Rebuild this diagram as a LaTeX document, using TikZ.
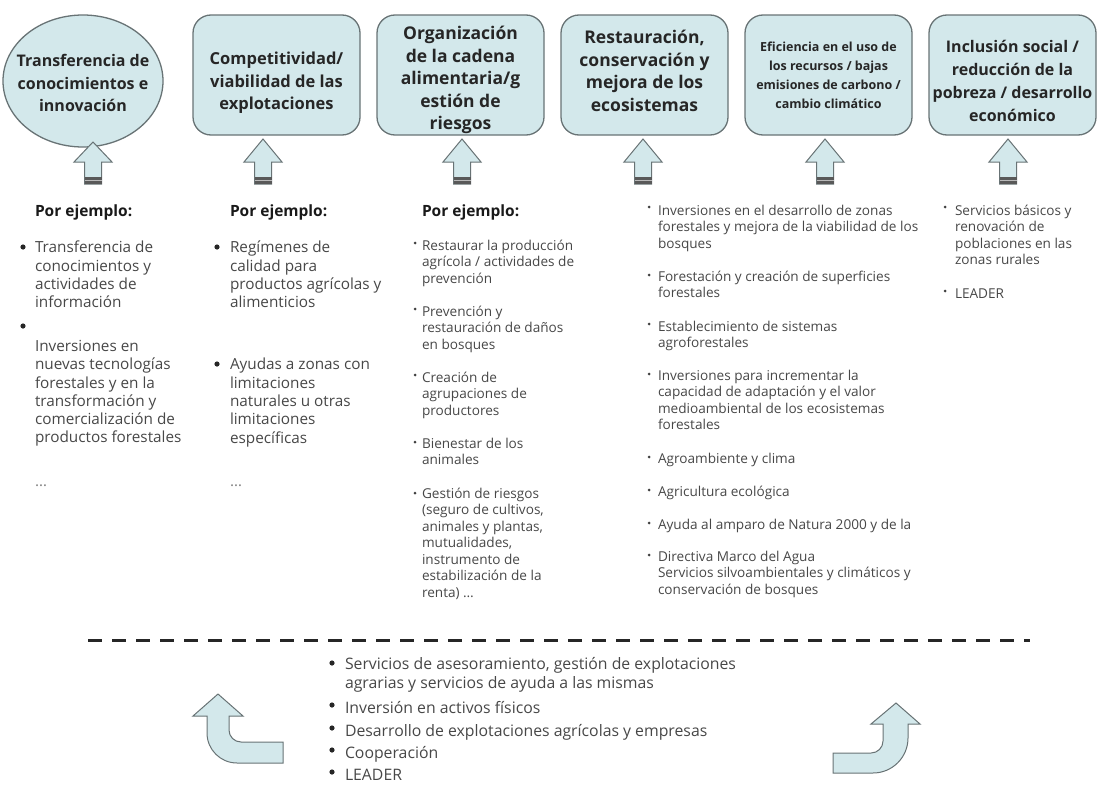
\documentclass[tikz,border=0pt]{standalone}
\usepackage{fontspec}
\setmainfont{Open Sans}
\usetikzlibrary{positioning, shapes.geometric}

\definecolor{boxfill}{HTML}{D3E8EB}
\definecolor{boxline}{HTML}{687375}
\definecolor{bodytext}{HTML}{474747}

\begin{document}
\begin{tikzpicture}[
  x=1pt,
  y=-1pt, % <-- pixel-like coordinates, y downwards
  every node/.style={inner sep=0pt, outer sep=0pt},
  goal/.style={draw=boxline, line width=1.3pt, fill=boxfill, rounded corners=18pt,
    minimum width=167pt, minimum height=120pt},
  goaltext/.style={align=center, text=black!85, font=\bfseries\fontsize{16}{22.5}\selectfont},
  head/.style={anchor=base west, text=black!90, font=\bfseries\fontsize{15.5}{18}\selectfont},
  big/.style={anchor=north west, yshift=12.81pt, align=left, text=bodytext,
    execute at begin node=\strut, font=\fontsize{15.3}{18.3}\selectfont},
  small/.style={anchor=north west, yshift=11.55pt, align=left, text=bodytext,
    execute at begin node=\strut, font=\fontsize{13.6}{16.5}\selectfont},
  blockarrow/.style={draw=boxline, line width=1pt, fill=boxfill}
]
\useasboundingbox (0,0) rectangle (1097,787);

% Goals (top row)
\node[goal, ellipse, rounded corners=0pt, minimum width=160pt, minimum height=132pt] (g1) at (83,81) {};
\node[goal] (g2) at (276.5,75) {};
\node[goal, right=17pt of g2] (g3) {};
\node[goal, right=17pt of g3] (g4) {};
\node[goal, right=17pt of g4] (g5) {};
\node[goal, right=17pt of g5] (g6) {};

\node[goaltext] (t1) at ([yshift=-2pt]g1.center) {Transferencia de\\conocimientos e\\innovación};
\node[goaltext, font=\bfseries\fontsize{16.5}{22.5}\selectfont] (t2) at ([yshift=-8pt]g2.center)
  {Competitividad/\\viabilidad de las\\explotaciones};
\node[goaltext, font=\bfseries\fontsize{17.5}{22.5}\selectfont] (t3) at ([yshift=-5pt]g3.center)
  {Organización\\de la cadena\\alimentaria/g\\estión de\\riesgos};
\node[goaltext, font=\bfseries\fontsize{17.5}{22.5}\selectfont] (t4) at ([yshift=4pt]g4.center)
  {Restauración,\\conservación y\\mejora de los\\ecosistemas};
\node[goaltext, font=\bfseries\fontsize{12.5}{19}\selectfont] (t5) at (g5.center)
  {Eficiencia en el uso de\\los recursos / bajas\\emisiones de carbono /\\cambio climático};
\node[goaltext, font=\bfseries\fontsize{16}{23}\selectfont] (t6) at ([yshift=-6pt]g6.center)
  {Inclusión social /\\reducción de la\\pobreza / desarrollo\\económico};

% Up arrows under the goals
\foreach \ax/\ay in {93/142, 263/139, 462/139, 643/139, 825/139, 1008/139} {
  \draw[blockarrow] (\ax,\ay) -- (\ax+19,162) -- (\ax+8.5,162) -- (\ax+8.5,184)
    -- (\ax-8.5,184) -- (\ax-8.5,162) -- (\ax-19,162) -- cycle;
  \fill[black!65] (\ax-8.5,177) rectangle (\ax+8.5,184);
  \draw[gray!55, line width=1.2pt] (\ax-8.5,180.5) -- (\ax+8.5,180.5);
}

% --- Column 1 ---
\node[head] (h1) at (35,216) {Por ejemplo:};
\node[big] (c1a) at (35,254) {Transferencia de\\conocimientos y\\actividades de\\información};
\node[big] (c1b) at (35,353) {Inversiones en\\nuevas tecnologías\\forestales y en la\\transformación y\\comercialización de\\productos forestales};
\node[big, text=gray] (c1c) at (35,486) {…};
\fill[black!85] (23,247) circle (2.6) (23,326) circle (2.6);

% --- Column 2 ---
\node[head] (h2) at (230,216) {Por ejemplo:};
\node[big] (c2a) at (230,254) {Regímenes de\\calidad para\\productos agrícolas y\\alimenticios};
\node[big] (c2b) at (230,371) {Ayudas a zonas con\\limitaciones\\naturales u otras\\limitaciones\\específicas};
\node[big, text=gray] (c2c) at (230,486) {…};
\fill[black!85] (217,247) circle (2.6) (217,364) circle (2.6);

% --- Column 3 ---
\node[head] (h3) at (422,216) {Por ejemplo:};
\node[small] (c3a) at (422,251.5) {Restaurar la producción\\agrícola / actividades de\\prevención};
\node[small] (c3b) at (422,317.5) {Prevención y\\restauración de daños\\en bosques};
\node[small] (c3c) at (422,383.5) {Creación de\\agrupaciones de\\productores};
\node[small] (c3d) at (422,449.5) {Bienestar de los\\animales};
\node[small] (c3e) at (422,499.5) {Gestión de riesgos\\(seguro de cultivos,\\animales y plantas,\\mutualidades,\\instrumento de\\estabilización de la\\renta) …};
\foreach \by in {243,309,375,442,493}
  \fill[black!75] (415,\by) circle (1.5);

% --- Column 4 ---
\node[small] (c4a) at (658,216.5) {Inversiones en el desarrollo de zonas\\forestales y mejora de la viabilidad de los\\bosques};
\node[small] (c4b) at (658,282.5) {Forestación y creación de superficies\\forestales};
\node[small] (c4c) at (658,332.5) {Establecimiento de sistemas\\agroforestales};
\node[small] (c4d) at (658,381.5) {Inversiones para incrementar la\\capacidad de adaptación y el valor\\medioambiental de los ecosistemas\\forestales};
\node[small] (c4e) at (658,463.5) {Agroambiente y clima};
\node[small] (c4f) at (658,496.5) {Agricultura ecológica};
\node[small] (c4g) at (658,529.5) {Ayuda al amparo de Natura 2000 y de la};
\node[small] (c4h) at (658,562.5) {Directiva Marco del Agua\\Servicios silvoambientales y climáticos y\\conservación de bosques};
\foreach \by in {207,275,324,374,457,490,523,555}
  \fill[black!75] (649,\by) circle (1.5);

% --- Column 5 ---
\node[small] (c5a) at (955,216.5) {Servicios básicos y\\renovación de\\poblaciones en las\\zonas rurales};
\node[small] (c5b) at (955,298.5) {LEADER};
\fill[black!75] (945,207) circle (1.5) (945,291) circle (1.5);

% Separator
\draw[black!85, line width=3pt, dash pattern=on 14pt off 10pt] (88,640) -- (1030,640);

% --- Common measures (bottom) ---
\node[big, font=\fontsize{15.8}{19}\selectfont, yshift=0.49pt] (d1) at (345,671) {Servicios de asesoramiento, gestión de explotaciones\\agrarias y servicios de ayuda a las mismas};
\node[big, font=\fontsize{15.8}{18.3}\selectfont] (d2) at (345,713) {Inversión en activos físicos};
\node[big, font=\fontsize{15.8}{18.3}\selectfont] (d3) at (345,736) {Desarrollo de explotaciones agrícolas y empresas};
\node[big, font=\fontsize{15.8}{18.3}\selectfont] (d4) at (345,758) {Cooperación};
\node[big, font=\fontsize{15.8}{18.3}\selectfont] (d5) at (345,780) {LEADER};
\foreach \by in {663,705,728,750,772}
  \fill[black!85] (332,\by) circle (2.6);

% Curved arrows
\draw[blockarrow] (218,694) -- (243,716) -- (229,716) -- (229,730)
  arc[start angle=180, end angle=90, radius=12] -- (283,742) -- (283,763) -- (237,763)
  arc[start angle=90, end angle=180, radius=30] -- (207,716) -- (193,716) -- cycle;
\draw[blockarrow] (896,703) -- (920,724) -- (908,724) -- (908,738)
  arc[start angle=0, end angle=90, radius=35] -- (833,773) -- (833,753) -- (871,753)
  arc[start angle=90, end angle=0, radius=12] -- (883,724) -- (871,724) -- cycle;

\end{tikzpicture}
\end{document}
